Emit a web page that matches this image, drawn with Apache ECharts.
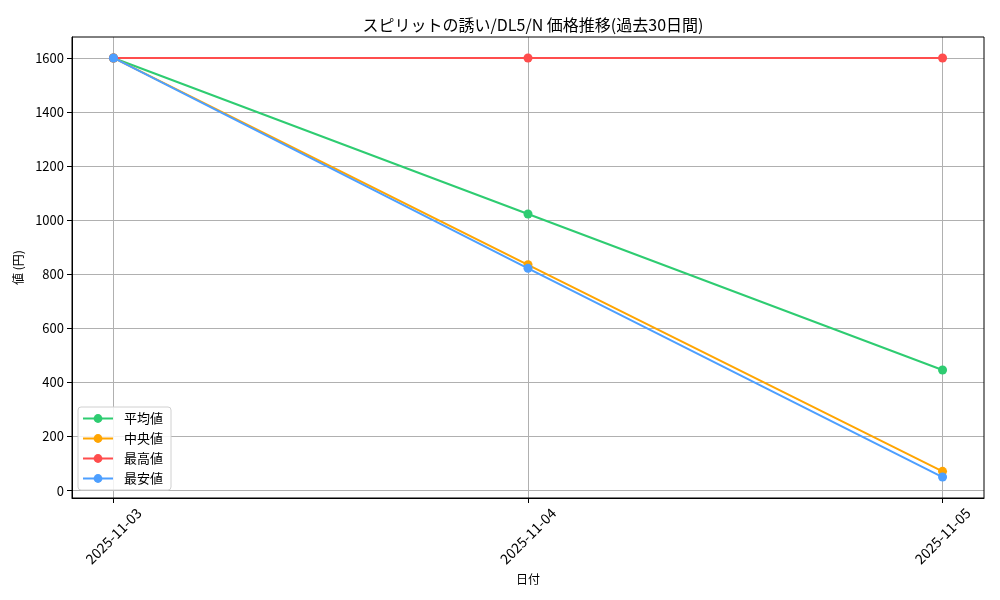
<!DOCTYPE html>
<html>
<head>
<meta charset="utf-8">
<script src="https://cdn.jsdelivr.net/npm/echarts@6/dist/echarts.min.js"></script>
<style>
  html, body { margin: 0; padding: 0; background: #fff; }
  #chart { width: 1000px; height: 600px; }
</style>
</head>
<body>
<div id="chart"></div>
<script>
// données
const dates = ["2025-11-03", "2025-11-04", "2025-11-05"];
const avgPrices = [1600, 1023, 446];
const medianPrices = [1600, 835, 71];
const maxPrices = [1600, 1600, 1600];
const minPrices = [1600, 822, 50];
const yTicks = [0, 200, 400, 600, 800, 1000, 1200, 1400, 1600];
const seriesNames = ["平均値", "中央値", "最高値", "最安値"];
const seriesColors = ["#2ecc71", "#ffa502", "#ff4d4d", "#4d9fff"];

const font = "'Liberation Sans Narrow', 'Noto Sans CJK JP', sans-serif";
const cjk = "'Noto Sans CJK JP', sans-serif";

function toPoints(values) {
    return values.map((v, i) => [i, v]);
}

const chart = echarts.init(document.getElementById('chart'));

const series = [avgPrices, medianPrices, maxPrices, minPrices].map((vals, idx) => ({
    name: seriesNames[idx],
    type: 'line',
    data: toPoints(vals),
    symbol: 'circle',
    symbolSize: 9,
    lineStyle: { color: seriesColors[idx], width: 2 },
    itemStyle: { color: seriesColors[idx] },
    z: 2 + idx,
    animation: false
}));

chart.setOption({
    animation: false,
    textStyle: { fontFamily: font },
    title: {
        text: 'スピリットの誘い/DL5/N 価格推移(過去30日間)',
        left: 528,
        textAlign: 'center',
        top: 12,
        textStyle: { fontSize: 16, fontWeight: 'normal', color: '#000', fontFamily: cjk }
    },
    grid: { left: 72, right: 16, top: 37, bottom: 102 },
    legend: {
        orient: 'vertical',
        left: 78,
        top: 407,
        data: seriesNames,
        itemWidth: 30,
        itemHeight: 11,
        itemGap: 7,
        padding: [5, 8, 5, 4],
        backgroundColor: 'rgba(255,255,255,0.85)',
        borderColor: '#d0d0d0',
        borderWidth: 1,
        borderRadius: 3,
        textStyle: { fontSize: 13, color: '#000', fontFamily: cjk, padding: [0, 0, 0, 6] }
    },
    xAxis: {
        type: 'value',
        min: -0.1,
        max: 2.1,
        name: '日付',
        nameLocation: 'middle',
        nameGap: 75,
        nameTextStyle: { fontSize: 12, color: '#000', fontFamily: cjk },
        axisLine: { show: true, onZero: false, lineStyle: { color: '#000', width: 1 } },
        axisTick: { show: true, length: 5, customValues: [0, 1, 2], lineStyle: { color: '#000' } },
        axisLabel: {
            customValues: [0, 1, 2],
            rotate: 45,
            align: 'center',
            verticalAlign: 'middle',
            fontSize: 14,
            color: '#000',
            margin: 38,
            formatter: v => dates[Math.round(v)]
        },
        splitLine: { show: true, lineStyle: { color: '#b0b0b0', width: 1 } }
    },
    yAxis: {
        type: 'value',
        min: -27.5,
        max: 1677.5,
        name: '値 (円)',
        nameLocation: 'middle',
        nameGap: 44,
        nameRotate: 90,
        nameTextStyle: { fontSize: 12, color: '#000', fontFamily: cjk },
        axisLine: { show: true, onZero: false, lineStyle: { color: '#000', width: 1 } },
        axisTick: { show: true, length: 5, customValues: yTicks, lineStyle: { color: '#000' } },
        axisLabel: { customValues: yTicks, fontSize: 13, color: '#000', margin: 8, formatter: v => String(v) },
        splitLine: { show: true, lineStyle: { color: '#b0b0b0', width: 1 } }
    },
    graphic: [{
        type: 'rect',
        shape: { x: 72, y: 37, width: 912, height: 461 },
        style: { fill: 'none', stroke: '#000', lineWidth: 1 },
        silent: true,
        z: 100
    }],
    series: series
});
</script>
</body>
</html>
